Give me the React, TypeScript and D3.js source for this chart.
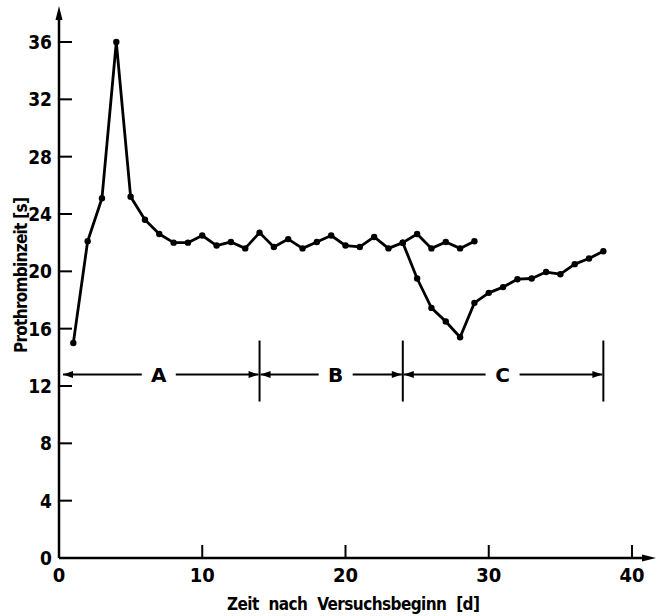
import React from "react";
import * as d3 from "d3";

const days1 = [1,2,3,4,5,6,7,8,9,10,11,12,13,14,15,16,17,18,19,20,21,22,23,24,25,26,27,28,29];
const values1 = [15.0,22.1,25.1,36.0,25.2,23.6,22.6,22.0,22.0,22.5,21.8,22.05,21.6,22.7,21.7,22.25,21.6,22.05,22.5,21.8,21.7,22.4,21.6,22.0,22.6,21.6,22.05,21.6,22.1];
const days2 = [24,25,26,27,28,29,30,31,32,33,34,35,36,37,38];
const values2 = [22.0,19.5,17.45,16.5,15.4,17.8,18.5,18.9,19.45,19.5,19.95,19.8,20.5,20.9,21.4];
const xTicks = [0,10,20,30,40];
const yTicks = [0,4,8,12,16,20,24,28,32,36];
const phaseBounds = [0,14,24,38];
const phaseLabels = ["A","B","C"];
const phaseLabelShift = [0, 5, 0];
const phaseLevel = 12.8;

const W = 661, H = 616;
const NARROW = "'Liberation Sans Narrow', 'DejaVu Sans Condensed', sans-serif";
const FONT = "'DejaVu Sans', sans-serif";

export default function App() {
  const x = d3.scaleLinear().domain([0, 40]).range([59, 632]);
  const y = d3.scaleLinear().domain([0, 36]).range([558, 42]);
  const mk = (ds: number[], vs: number[]) =>
    d3.line<number>().x((d) => x(d)).y((_, i) => y(vs[i]))(ds) || "";
  const x0 = x(0), y0 = y(0);
  const py = y(phaseLevel);
  const ah = (tipX: number, dir: number, key: string) => (
    <path key={key} d={`M${tipX},${py} L${tipX - dir * 10},${py - 3.5} L${tipX - dir * 10},${py + 3.5} Z`} fill="#000" />
  );
  return (
    <svg width={W} height={H} style={{ position: "absolute", left: 0, top: 0, background: "#fff" }}>
      <rect width={W} height={H} fill="#fff" />
      <line x1={x0} y1={y0} x2={x0} y2={14} stroke="#000" strokeWidth={2.5} />
      <path d={`M${x0},6 L${x0 - 3.5},20 L${x0 + 3.5},20 Z`} fill="#000" />
      <line x1={x0} y1={y0} x2={645} y2={y0} stroke="#000" strokeWidth={2.5} />
      <path d={`M656,${y0} L642,${y0 - 3.5} L642,${y0 + 3.5} Z`} fill="#000" />
      {yTicks.map((t) => (
        <g key={"y" + t}>
          <line x1={x0} x2={x0 + 13} y1={y(t)} y2={y(t)} stroke="#000" strokeWidth={2} />
          <text x={52} y={y(t)} dy="0.36em" textAnchor="end" fontFamily={NARROW} fontSize={19} fontWeight="bold">{t}</text>
        </g>
      ))}
      {xTicks.map((t) => (
        <g key={"x" + t}>
          {t > 0 && <line x1={x(t)} x2={x(t)} y1={y0} y2={y0 - 13} stroke="#000" strokeWidth={2} />}
          <text x={x(t)} y={582} textAnchor="middle" fontFamily={NARROW} fontSize={20} fontWeight="bold">{t}</text>
        </g>
      ))}
      <text x={227} y={610} fontFamily={NARROW} fontSize={17} fontWeight="bold" wordSpacing={5} textLength={253} lengthAdjust="spacing">Zeit nach Versuchsbeginn [d]</text>
      <text transform={`translate(27,353) rotate(-90)`} fontFamily={NARROW} fontSize={17} fontWeight="bold" textLength={156} lengthAdjust="spacing">Prothrombinzeit [s]</text>
      {phaseBounds.slice(1).map((b) => (
        <line key={"v" + b} x1={x(b)} x2={x(b)} y1={py - 34} y2={py + 27} stroke="#000" strokeWidth={2} />
      ))}
      {phaseLabels.map((lab, i) => {
        const a = x(phaseBounds[i]) + (i === 0 ? 4 : 1);
        const b = x(phaseBounds[i + 1]) - 1;
        const mid = (x(phaseBounds[i]) + b) / 2 + phaseLabelShift[i];
        return (
          <g key={lab}>
            <line x1={a} x2={mid - 17} y1={py} y2={py} stroke="#000" strokeWidth={2} />
            <line x1={mid + 17} x2={b} y1={py} y2={py} stroke="#000" strokeWidth={2} />
            {ah(a, -1, "l")}
            {ah(b, 1, "r")}
            <text x={mid} y={py} dy="0.36em" textAnchor="middle" fontFamily={FONT} fontSize={20} fontWeight="bold">{lab}</text>
          </g>
        );
      })}
      <path d={mk(days1, values1)} fill="none" stroke="#000" strokeWidth={2.8} strokeLinejoin="round" />
      <path d={mk(days2, values2)} fill="none" stroke="#000" strokeWidth={2.8} strokeLinejoin="round" />
      {days1.map((d, i) => <circle key={"a" + d} cx={x(d)} cy={y(values1[i])} r={3.2} fill="#000" />)}
      {days2.map((d, i) => <circle key={"b" + d} cx={x(d)} cy={y(values2[i])} r={3.2} fill="#000" />)}
    </svg>
  );
}
